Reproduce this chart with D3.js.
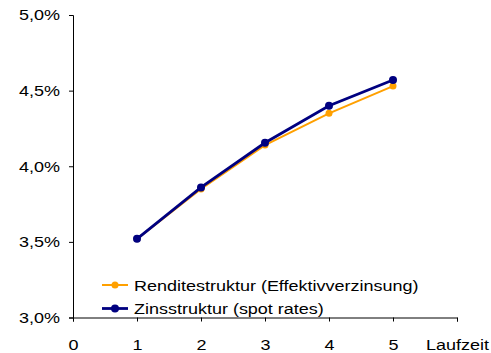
<!DOCTYPE html>
<html>
<head>
<meta charset="utf-8">
<script src="https://cdn.jsdelivr.net/npm/d3@7"></script>
<style>
  html, body { margin: 0; padding: 0; background: #fff; }
  svg { display: block; font-family: "Liberation Sans", Arial, sans-serif; }
</style>
</head>
<body>
<svg id="chart" width="491" height="353"></svg>
<script>
// Laufzeit in Jahren
const maturities = [1, 2, 3, 4, 5];
// Renditestruktur (Effektivverzinsung), in Prozent
const yieldCurve = [3.52, 3.85, 4.14, 4.35, 4.53];
// Zinsstruktur (spot rates), in Prozent
const spotCurve = [3.52, 3.86, 4.155, 4.40, 4.57];
const xTicks = [0, 1, 2, 3, 4, 5, 6];
const yTicks = [3.0, 3.5, 4.0, 4.5, 5.0];
const seriesNames = ["Renditestruktur (Effektivverzinsung)", "Zinsstruktur (spot rates)"];
const xTitle = "Laufzeit";

const svg = d3.select("#chart");
const plot = { left: 73, right: 457, top: 15, bottom: 317.5 };
const stretch = 1.2; // wide lettering

const x = d3.scaleLinear().domain([0, 6]).range([plot.left, plot.right]);
const y = d3.scaleLinear().domain([3.0, 5.0]).range([plot.bottom, plot.top]);

const fmt = v => d3.format(".1f")(v).replace(".", ",") + "%";

// widen a text element horizontally around its own anchor x
function widen(sel) {
  sel.each(function () {
    const t = d3.select(this);
    const ax = +t.attr("x") || 0;
    t.attr("transform", `translate(${ax},0) scale(${stretch},1) translate(${-ax},0)`);
  });
}

// Y-Achse
const yAxis = svg.append("g")
  .attr("transform", `translate(${plot.left},0)`)
  .call(d3.axisLeft(y).tickValues(yTicks).tickSize(4).tickPadding(9).tickFormat(fmt));

// X-Achse
const xAxis = svg.append("g")
  .attr("transform", `translate(0,${plot.bottom})`)
  .call(d3.axisBottom(x).tickValues(xTicks).tickSize(4).tickPadding(17.5)
    .tickFormat(d => d === 6 ? xTitle : d));

[yAxis, xAxis].forEach(g => {
  g.select(".domain").attr("stroke", "#000").attr("stroke-width", 1);
  g.selectAll(".tick line").attr("stroke", "#000");
  g.selectAll("text").attr("fill", "#000").attr("font-size", 15)
    .attr("font-family", "Liberation Sans, Arial, sans-serif")
    .call(widen);
});

const series = [
  { name: seriesNames[0], values: yieldCurve, color: "#FFA000", width: 2, r: 3.5 },
  { name: seriesNames[1], values: spotCurve, color: "#000080", width: 2.8, r: 4 }
];

const line = d3.line().x(d => x(d[0])).y(d => y(d[1]));

series.forEach(s => {
  const pts = maturities.map((m, i) => [m, s.values[i]]);
  svg.append("path").datum(pts)
    .attr("fill", "none").attr("stroke", s.color)
    .attr("stroke-width", s.width).attr("d", line);
  svg.append("g").selectAll("circle").data(pts).join("circle")
    .attr("cx", d => x(d[0])).attr("cy", d => y(d[1]))
    .attr("r", s.r).attr("fill", s.color);
});

// Legende
const legend = svg.append("g").attr("transform", "translate(102,285)");
series.forEach((s, i) => {
  const g = legend.append("g").attr("transform", `translate(0,${i * 23.5})`);
  g.append("line").attr("x1", 0).attr("x2", 26).attr("y1", 0).attr("y2", 0)
    .attr("stroke", s.color).attr("stroke-width", s.width);
  g.append("circle").attr("cx", 13).attr("cy", 0).attr("r", s.r).attr("fill", s.color);
  g.append("text").attr("x", 32).attr("y", 5.5).attr("font-size", 15)
    .attr("fill", "#000").text(s.name).call(widen);
});
</script>
</body>
</html>
